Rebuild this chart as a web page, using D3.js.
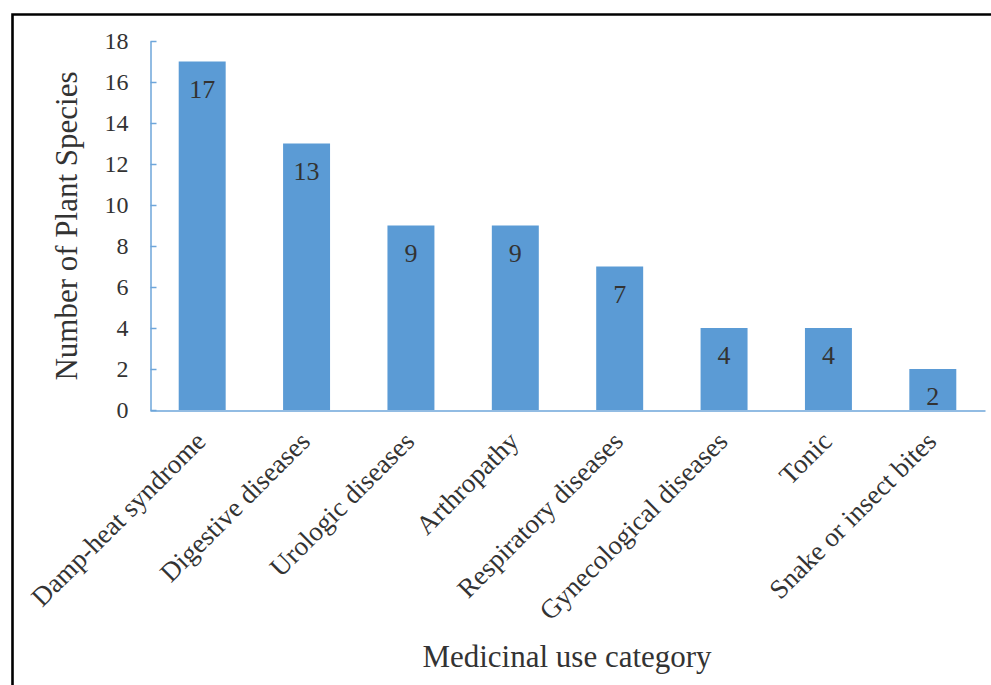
<!DOCTYPE html>
<html>
<head>
<meta charset="utf-8">
<script src="https://cdn.jsdelivr.net/npm/d3@7"></script>
<style>
	body { margin: 0; background: #fff; }
	svg text { font-family: "Liberation Serif", "Times New Roman", serif; }
</style>
</head>
<body>
<svg id="chart"></svg>
<script>
// categories and counts
var categories = ["Damp-heat syndrome", "Digestive diseases", "Urologic diseases", "Arthropathy",
	"Respiratory diseases", "Gynecological diseases", "Tonic", "Snake or insect bites"];
var counts = [17, 13, 9, 9, 7, 4, 4, 2];
var yTicks = [0, 2, 4, 6, 8, 10, 12, 14, 16, 18];

var width = 991;
var height = 685;
var barColor = "#5b9bd5";
var axisColor = "#6ea6da";
var textColor = "#333";

var svg = d3.select("#chart")
	.attr("width", width)
	.attr("height", height);

// frame round the figure (only top and left show)
svg.append("path")
	.attr("d", "M12.5,685 V14.5 H991")
	.attr("fill", "none")
	.attr("stroke", "#000")
	.attr("stroke-width", 2.6);

var x = d3.scaleBand()
	.domain(categories)
	.range([150, 985])
	.paddingInner(0.55)
	.paddingOuter(0.275);

var y = d3.scaleLinear()
	.domain([0, 18])
	.range([410, 41]);

// bars
svg.selectAll(".bar")
	.data(counts)
	.enter()
	.append("rect")
	.classed("bar", true)
	.attr("x", (d, i) => x(categories[i]))
	.attr("y", d => y(d))
	.attr("width", x.bandwidth())
	.attr("height", d => y(0) - y(d))
	.attr("fill", barColor);

// value labels inside bars
svg.selectAll(".val")
	.data(counts)
	.enter()
	.append("text")
	.classed("val", true)
	.attr("x", (d, i) => x(categories[i]) + x.bandwidth() / 2)
	.attr("y", d => y(d) + 36)
	.attr("text-anchor", "middle")
	.attr("font-size", "26px")
	.attr("fill", textColor)
	.text(d => d);

// y axis
var yAxis = svg.append("g")
	.attr("transform", "translate(150.5,0)")
	.call(d3.axisLeft(y).tickValues(yTicks).tickSizeInner(-6).tickSizeOuter(0).tickPadding(22));
yAxis.select(".domain").attr("stroke", axisColor).attr("stroke-width", 1.5);
yAxis.selectAll(".tick line").attr("stroke", axisColor).attr("stroke-width", 1.5);
yAxis.selectAll(".tick text")
	.attr("font-size", "24px")
	.attr("fill", textColor);

// x axis line
var xAxis = svg.append("g")
	.attr("transform", "translate(0,410.5)")
	.call(d3.axisBottom(x).tickSize(0).tickFormat(""));
xAxis.select(".domain").attr("stroke", axisColor).attr("stroke-width", 1.5);

// rotated category labels
svg.selectAll(".cat")
	.data(categories)
	.enter()
	.append("text")
	.classed("cat", true)
	.attr("transform", d => "translate(" + (x(d) + x.bandwidth() / 2 + 5) + ",443) rotate(-45)")
	.attr("text-anchor", "end")
	.attr("font-size", "27px")
	.attr("fill", textColor)
	.text(d => d);

// axis titles
svg.append("text")
	.attr("transform", "translate(77,226) rotate(-90)")
	.attr("text-anchor", "middle")
	.attr("font-size", "31px")
	.attr("fill", textColor)
	.text("Number of Plant Species");

svg.append("text")
	.attr("x", 567)
	.attr("y", 667)
	.attr("text-anchor", "middle")
	.attr("font-size", "31px")
	.attr("fill", textColor)
	.text("Medicinal use category");
</script>
</body>
</html>
